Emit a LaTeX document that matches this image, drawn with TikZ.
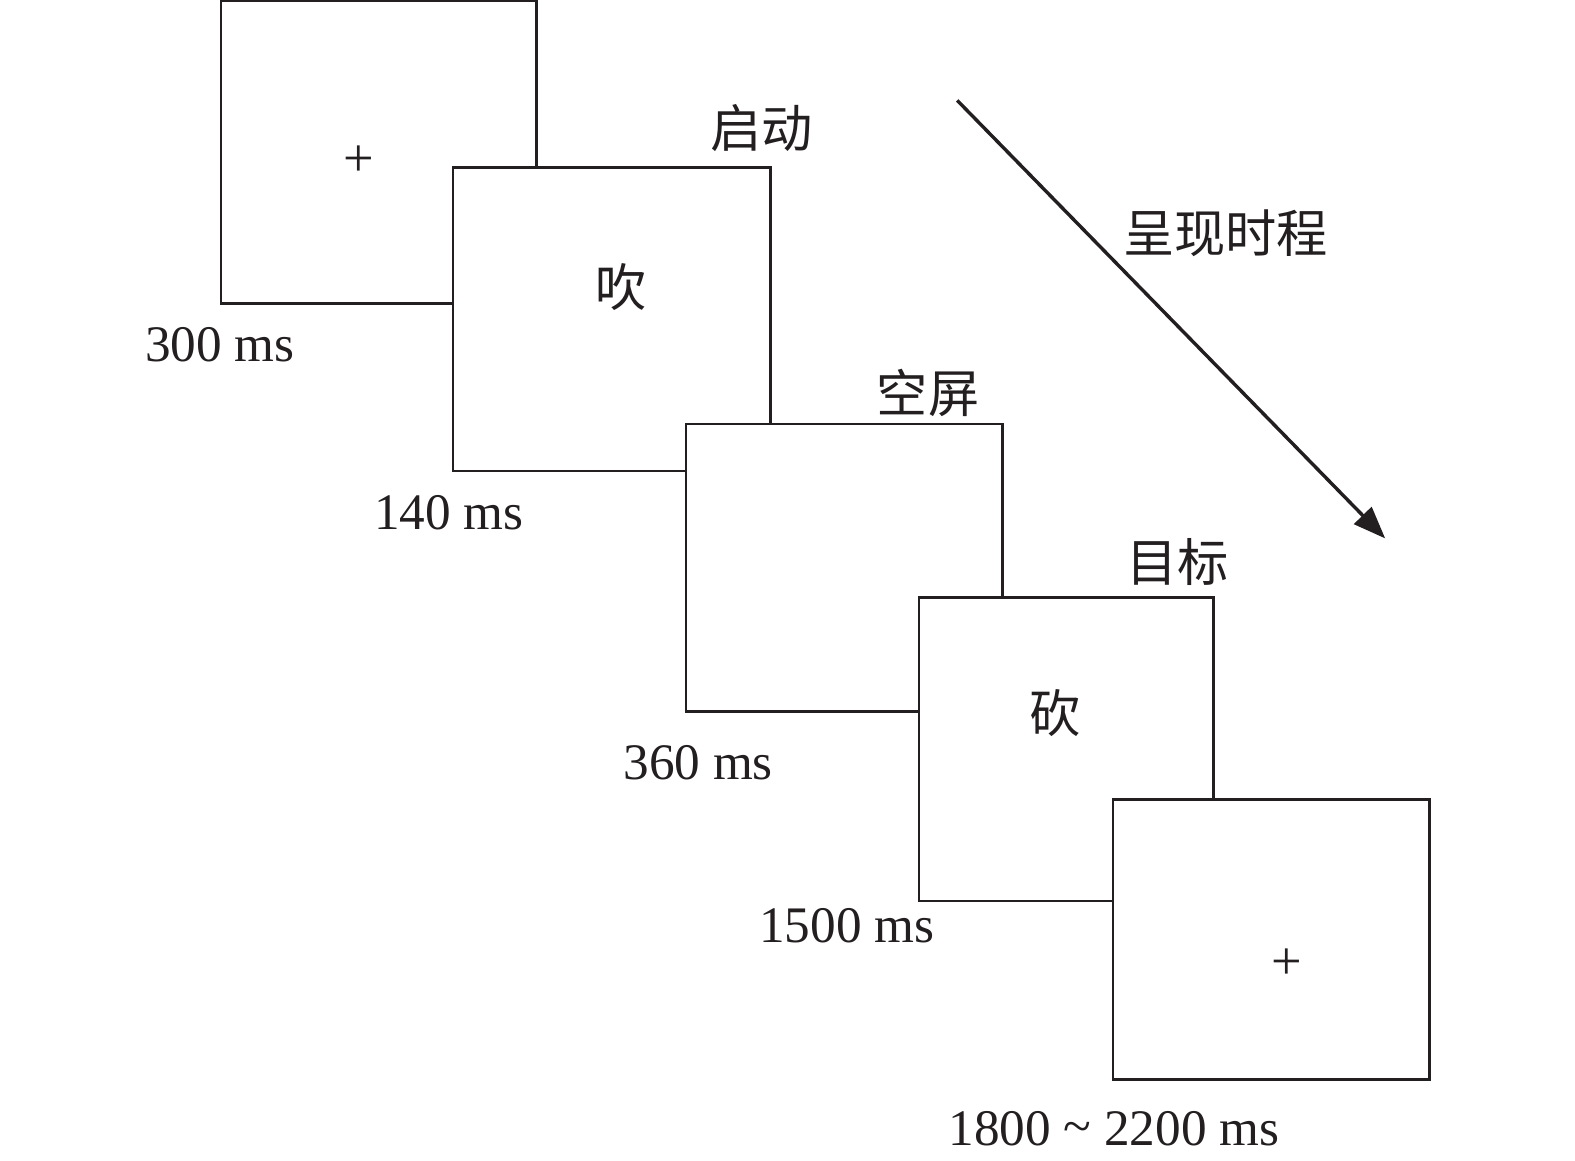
\documentclass[tikz,border=0pt]{standalone}
\usepackage{fontspec}
\setmainfont{Liberation Serif}
\newfontfamily\cjk{Noto Sans CJK SC}
\usetikzlibrary{arrows.meta}
\definecolor{ink}{RGB}{35,31,32}
\tikzset{
  screen/.style={draw=ink, fill=white, line width=2.7pt, rectangle, inner sep=0pt, minimum width=#1},
  num/.style={text=ink, inner sep=0pt, font=\fontsize{51}{55}\selectfont},
  zh/.style={text=ink, inner sep=0pt, font=\cjk\fontsize{51}{55}\selectfont},
  fix/.style={text=ink, inner sep=0pt, font=\fontsize{54}{58}\selectfont},
}
\begin{document}
\begin{tikzpicture}[x=1pt,y=-1pt]
\useasboundingbox (0,0) rectangle (1568,1155);
% screens, later ones on top
\node[screen=314pt, minimum height=301pt] (s1) at (377,151.5) {};
\node[screen=316pt, minimum height=302pt] (s2) at (609,318) {};
\node[screen=315pt, minimum height=286pt] (s3) at (840.5,565) {};
\node[screen=293pt, minimum height=302pt] (s4) at (1061.5,746) {};
\node[screen=315pt, minimum height=279pt] (s5) at (1265.5,935.5) {};
% contents
\node[fix] (p1) at (357,160) {+};
\node[zh] (w1) at (618,286) {吹};
\node[zh] (w2) at (1050,710) {砍};
\node[fix] (p2) at (1281,960) {+};
% labels
\node[zh] (l1) at (758,127) {启动};
\node[zh] (l2) at (924,391) {空屏};
\node[zh] (l3) at (1172,560) {目标};
\node[zh] (l4) at (1220,232) {呈现时程};
\node[num] (t1) at (219,343) {300 ms};
\node[num] (t2) at (447,510) {140 ms};
\node[num] (t3) at (695,759) {360 ms};
\node[num] (t4) at (843,922) {1500 ms};
\node[num] (t5) at (1109,1124) {1800 {\raisebox{2pt}{\textasciitilde}} 2200 ms};
% time arrow
\coordinate (a1) at (953,100);
\coordinate (a2) at (1379,536);
\draw[draw=ink, line width=3.4pt, -{Triangle[length=32pt,width=24pt]}] (a1) -- (a2);
\end{tikzpicture}
\end{document}
